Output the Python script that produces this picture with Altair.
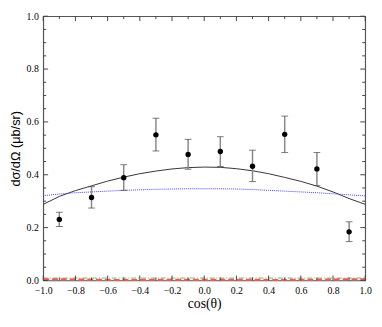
import altair as alt
import pandas as pd

# Data points
cos_pts = [-0.9, -0.7, -0.5, -0.3, -0.1, 0.1, 0.3, 0.5, 0.7, 0.9]
xs_pts = [0.231, 0.314, 0.389, 0.551, 0.477, 0.488, 0.432, 0.553, 0.422, 0.184]
err_lo = [0.204, 0.274, 0.341, 0.490, 0.421, 0.431, 0.374, 0.484, 0.359, 0.147]
err_hi = [0.258, 0.355, 0.438, 0.614, 0.534, 0.544, 0.493, 0.622, 0.484, 0.222]

# Curves
cos_curve = [-1.0, -0.9, -0.8, -0.7, -0.6, -0.5, -0.4, -0.3, -0.2, -0.1, 0.0,
             0.1, 0.2, 0.3, 0.4, 0.5, 0.6, 0.7, 0.8, 0.9, 1.0]
total = [0.288, 0.318, 0.340, 0.358, 0.376, 0.391, 0.404, 0.414, 0.422, 0.427, 0.429,
         0.428, 0.423, 0.415, 0.404, 0.390, 0.375, 0.357, 0.335, 0.310, 0.288]
blue = [0.321, 0.327, 0.332, 0.335, 0.338, 0.341, 0.343, 0.345, 0.346, 0.347, 0.347,
        0.347, 0.346, 0.344, 0.341, 0.338, 0.335, 0.332, 0.328, 0.324, 0.320]
green = [0.009] * 21
red = [0.005, 0.005, 0.004, 0.003, 0.002, 0.002, 0.002, 0.003, 0.003, 0.003, 0.003,
       0.003, 0.003, 0.003, 0.002, 0.002, 0.003, 0.003, 0.004, 0.005, 0.005]

x_major = [-1.0, -0.8, -0.6, -0.4, -0.2, 0.0, 0.2, 0.4, 0.6, 0.8, 1.0]
x_minor = [-0.9, -0.7, -0.5, -0.3, -0.1, 0.1, 0.3, 0.5, 0.7, 0.9]
y_major = [0.0, 0.2, 0.4, 0.6, 0.8, 1.0]
y_minor = [0.05, 0.1, 0.15, 0.25, 0.3, 0.35, 0.45, 0.5, 0.55, 0.65, 0.7, 0.75,
           0.85, 0.9, 0.95]

W, H = 329, 270
SERIF = "Liberation Serif"

pts = pd.DataFrame({"c": cos_pts, "v": xs_pts, "lo": err_lo, "hi": err_hi})
curves = pd.DataFrame({"c": cos_curve, "total": total, "blue": blue,
                       "green": green, "red": red})

xscale = alt.Scale(domain=[-1, 1], nice=False, zero=False)
yscale = alt.Scale(domain=[0, 1], nice=False, zero=False)

XAXIS = alt.Axis(values=x_major, title="cos(θ)", titleFont=SERIF,
                 titleFontSize=14, titlePadding=2, format=".1f",
                 ticks=False, domain=False, grid=False,
                 labelFont=SERIF, labelFontSize=10, labelColor="#000",
                 labelPadding=5, labelOverlap=False, labelFlush=False,
                 titleFontWeight="normal", titleColor="#000")
YAXIS = alt.Axis(values=y_major, title="dσ/dΩ (μb/sr)",
                 titleFont="Liberation Sans", titleFontSize=13,
                 titlePadding=4, format=".1f",
                 ticks=False, domain=False, grid=False,
                 labelFont=SERIF, labelFontSize=10, labelColor="#000",
                 labelPadding=5, labelOverlap=False, labelFlush=False,
                 titleFontWeight="normal", titleColor="#000")

def xe(f):
    return alt.X(f, scale=xscale, axis=XAXIS)

def ye(f):
    return alt.Y(f, scale=yscale, axis=YAXIS)

base = alt.Chart(curves)

total_line = base.mark_line(color="#333", strokeWidth=1).encode(
    x=xe("c:Q"), y=ye("total:Q"))
blue_line = base.mark_line(color="#4444ff", strokeWidth=1, strokeDash=[1, 1]).encode(
    x=xe("c:Q"), y=ye("blue:Q"))
green_line = base.mark_line(color="#66bb66", strokeWidth=1, strokeDash=[5, 2, 1, 2]).encode(
    x=xe("c:Q"), y=ye("green:Q"))
red_line = base.mark_line(color="#ff5555", strokeWidth=2, strokeDash=[6, 3]).encode(
    x=xe("c:Q"), y=ye("red:Q"))

pbase = alt.Chart(pts)
ebar = pbase.mark_rule(color="#888", strokeWidth=1.5).encode(
    x=xe("c:Q"), y=ye("lo:Q"), y2="hi:Q")
cap_lo = pbase.mark_tick(color="#444", thickness=1, size=7, orient="horizontal").encode(
    x=xe("c:Q"), y=ye("lo:Q"))
cap_hi = pbase.mark_tick(color="#444", thickness=1, size=7, orient="horizontal").encode(
    x=xe("c:Q"), y=ye("hi:Q"))
dots = pbase.mark_point(filled=True, color="#000", size=30, opacity=1).encode(
    x=xe("c:Q"), y=ye("v:Q"))

# Inward ticks
tick_color = "#444"
xmaj = pd.DataFrame({"t": x_major})
xmin = pd.DataFrame({"t": x_minor})
ymaj = pd.DataFrame({"t": y_major})
ymin = pd.DataFrame({"t": y_minor})

def xticks(df, L):
    b = alt.Chart(df).mark_rule(color=tick_color, strokeWidth=1)
    return (b.encode(x=xe("t:Q"), y=alt.value(H), y2=alt.value(H - L)) +
            b.encode(x=xe("t:Q"), y=alt.value(0), y2=alt.value(L)))

def yticks(df, L):
    b = alt.Chart(df).mark_rule(color=tick_color, strokeWidth=1)
    return (b.encode(y=ye("t:Q"), x=alt.value(0), x2=alt.value(L)) +
            b.encode(y=ye("t:Q"), x=alt.value(W), x2=alt.value(W - L)))

chart = alt.layer(
    total_line, blue_line, green_line, red_line,
    ebar, cap_lo, cap_hi, dots,
    xticks(xmaj, 5), xticks(xmin, 3), yticks(ymaj, 5), yticks(ymin, 3),
).properties(
    width=W, height=H,
    autosize=alt.AutoSizeParams(type="none"),
    padding={"left": 36, "top": 5, "right": 9, "bottom": 36},
).configure_view(
    stroke="#555", strokeWidth=1.2
)

chart.save("out.html", embed_options={"renderer": "svg", "actions": False})
